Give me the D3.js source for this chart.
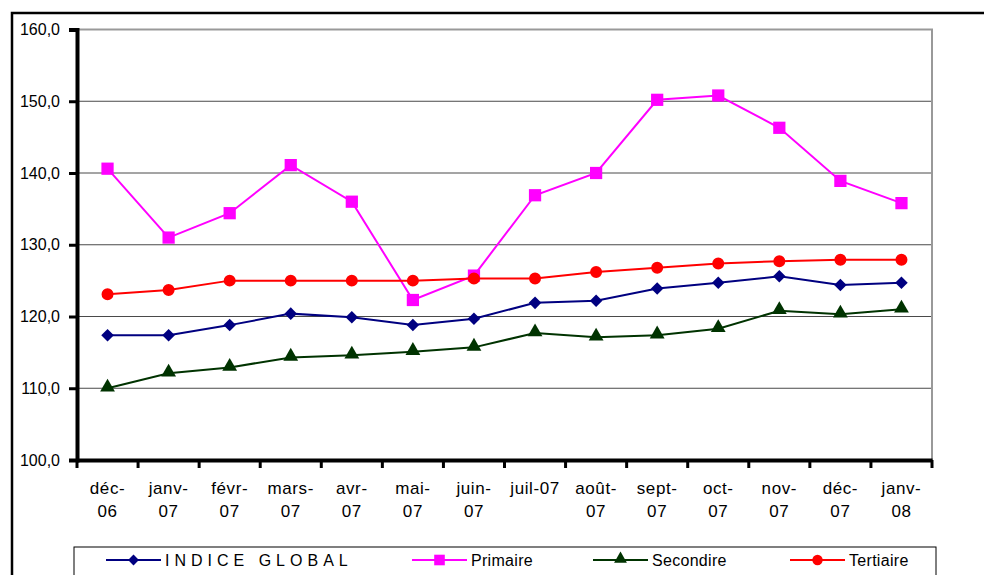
<!DOCTYPE html>
<html>
<head>
<meta charset="utf-8">
<script src="https://cdn.jsdelivr.net/npm/d3@7"></script>
<style>
html,body{margin:0;padding:0;background:#fff;}
svg{display:block;font-family:"Liberation Sans",Arial,sans-serif;}
</style>
</head>
<body>
<svg id="chart" width="984" height="575"></svg>
<script>
const categories = ["déc-06","janv-07","févr-07","mars-07","avr-07","mai-07","juin-07","juil-07","août-07","sept-07","oct-07","nov-07","déc-07","janv-08"];
const tickLabels = [["déc-","06"],["janv-","07"],["févr-","07"],["mars-","07"],["avr-","07"],["mai-","07"],["juin-","07"],["juil-07"],["août-","07"],["sept-","07"],["oct-","07"],["nov-","07"],["déc-","07"],["janv-","08"]];
const yTicks = [100,110,120,130,140,150,160];
const seriesNames = ["INDICE GLOBAL","Primaire","Secondire","Tertiaire"];
const indiceGlobal = [117.4,117.4,118.8,120.4,119.9,118.8,119.7,121.9,122.2,123.9,124.7,125.6,124.4,124.7];
const primaire = [140.6,131.0,134.4,141.1,136.0,122.3,125.7,136.9,140.0,150.2,150.8,146.3,138.9,135.8];
const secondaire = [110.0,112.1,112.9,114.3,114.6,115.1,115.7,117.7,117.1,117.4,118.3,120.8,120.3,121.0];
const tertiaire = [123.1,123.7,125.0,125.0,125.0,125.0,125.3,125.3,126.2,126.8,127.4,127.7,127.9,127.9];

const seriesValues = [indiceGlobal, primaire, secondaire, tertiaire];
const colors = ["#000080","#FF00FF","#003300","#FF0000"];
const symbols = [d3.symbolDiamond2, d3.symbolSquare, d3.symbolTriangle, d3.symbolCircle];
const symSizes = [100, 150, 95, 113];

const svg = d3.select("#chart");
const L = 77, R = 932, T = 29.5, B = 460;

const x = d3.scaleBand().domain(categories).range([L, R]);
const y = d3.scaleLinear().domain([100,160]).range([B, T]);

// outer frame
svg.append("path").attr("d", `M12,575 L12,13 L984,13`).attr("fill","none").attr("stroke","#000").attr("stroke-width",2.5);

// gridlines
svg.append("g").selectAll("line").data(yTicks.filter(d => d > 100 && d < 160)).join("line")
  .attr("x1", L).attr("x2", R).attr("y1", d => y(d)).attr("y2", d => y(d))
  .attr("stroke", "#4a4a4a").attr("stroke-width", 1);
// top & right plot border
svg.append("path").attr("d", `M${L},${y(160)} L${R},${y(160)} L${R},${B}`)
  .attr("fill","none").attr("stroke","#999").attr("stroke-width",2);

// y axis
const yAxis = d3.axisLeft(y).tickValues(yTicks).tickSize(8).tickPadding(9)
  .tickFormat(d => d3.format(".1f")(d).replace(".", ","));
const gy = svg.append("g").attr("transform", `translate(${L},0)`).call(yAxis);
gy.select(".domain").attr("stroke","#000").attr("stroke-width",4);
gy.selectAll(".tick line").attr("stroke","#000").attr("stroke-width",3);
gy.selectAll(".tick text").attr("font-size",16).attr("fill","#000").attr("font-family","Liberation Sans, Arial, sans-serif");

// x axis
const xAxis = d3.axisBottom(x).tickSize(0).tickFormat("");
const gx = svg.append("g").attr("transform", `translate(0,${B})`).call(xAxis);
gx.select(".domain").attr("stroke","#000").attr("stroke-width",4);
const bounds = categories.map(c => x(c)).concat([R]);
gx.append("g").selectAll("line").data(bounds).join("line")
  .attr("x1", d => d).attr("x2", d => d).attr("y1", 0).attr("y2", 8)
  .attr("stroke","#000").attr("stroke-width",3);
const lbl = svg.append("g").attr("font-size",17).attr("fill","#000").attr("text-anchor","middle").attr("letter-spacing","0.6px");
categories.forEach((c, i) => {
  const t = lbl.append("text").attr("x", x(c) + x.bandwidth()/2).attr("y", 494);
  tickLabels[i].forEach((s, j) => {
    t.append("tspan").attr("x", x(c) + x.bandwidth()/2).attr("dy", j === 0 ? 0 : 23).text(s);
  });
});

// series
const line = d3.line().x((d,i) => x(categories[i]) + x.bandwidth()/2).y(d => y(d));
seriesValues.forEach((vals, k) => {
  const g = svg.append("g");
  g.append("path").datum(vals).attr("d", line).attr("fill","none").attr("stroke", colors[k]).attr("stroke-width", 2);
  g.selectAll("path.m").data(vals).join("path").attr("class","m")
    .attr("transform", (d,i) => `translate(${x(categories[i]) + x.bandwidth()/2},${y(d) + (k===2 ? -1 : 0)})`)
    .attr("d", d3.symbol().type(symbols[k]).size(symSizes[k]))
    .attr("fill", colors[k]);
});

// legend
const legendX = [106, 412, 593, 790];
const lg = svg.append("g");
lg.append("rect").attr("x",74).attr("y",547).attr("width",862).attr("height",40)
  .attr("fill","#fff").attr("stroke","#000").attr("stroke-width",1);
seriesNames.forEach((name, k) => {
  const x0 = legendX[k], cy = 560;
  lg.append("line").attr("x1", x0).attr("x2", x0 + 55).attr("y1", cy).attr("y2", cy)
    .attr("stroke", colors[k]).attr("stroke-width", 2);
  lg.append("path").attr("transform", `translate(${x0 + 27.5},${cy + (k===2 ? -1 : 0)})`)
    .attr("d", d3.symbol().type(symbols[k]).size(symSizes[k]*0.75)).attr("fill", colors[k]);
  lg.append("text").attr("x", x0 + 59).attr("y", 566).attr("font-size", 16).attr("fill","#000")
    .attr("letter-spacing", k === 0 ? "5px" : "0.3px")
    .text(name);
});
</script>
</body>
</html>
